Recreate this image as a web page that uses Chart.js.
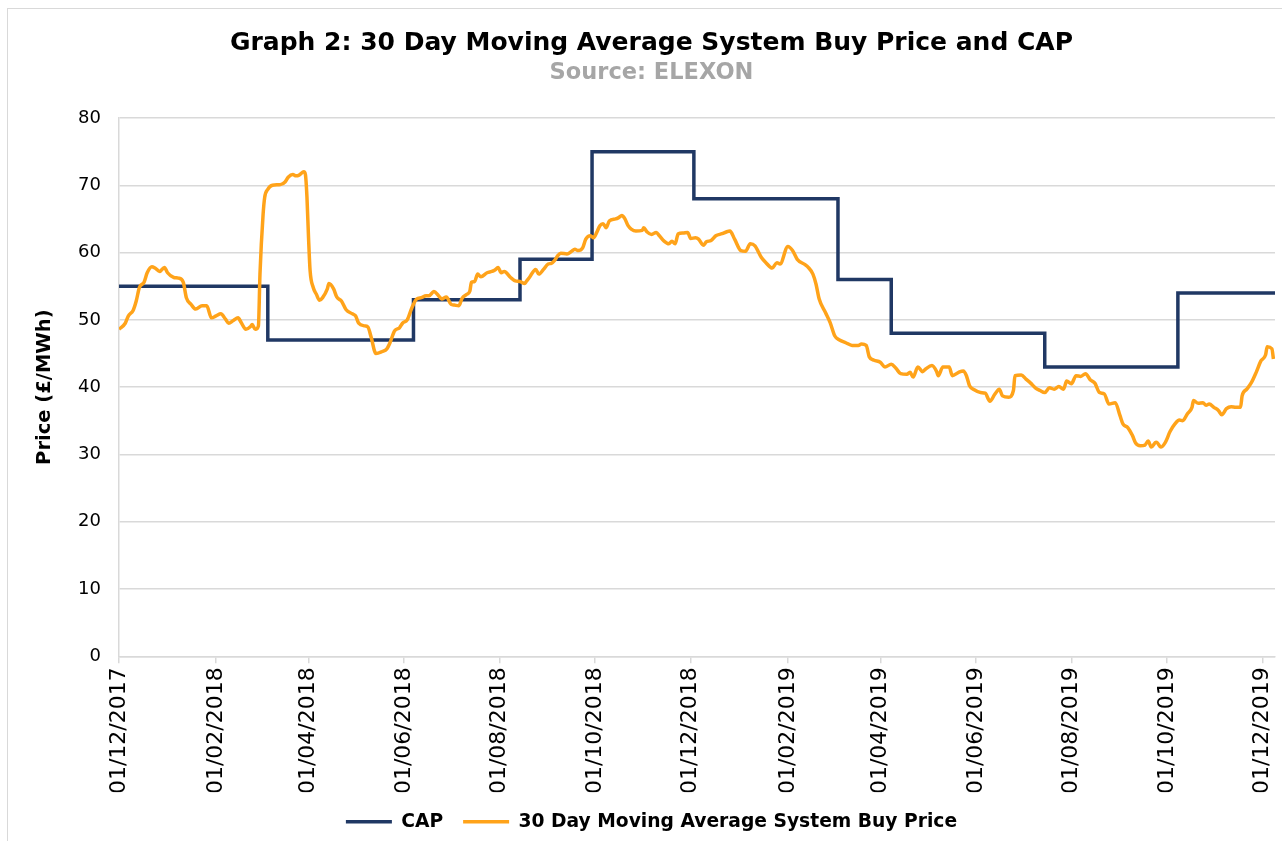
<!DOCTYPE html>
<html>
<head>
<meta charset="utf-8">
<title>Graph 2: 30 Day Moving Average System Buy Price and CAP</title>
<script src="https://cdn.jsdelivr.net/npm/chart.js@4.4.1/dist/chart.umd.min.js"></script>
<style>
  html, body { margin: 0; padding: 0; background: #fff; }
  .chart-box { position: relative; width: 1282px; height: 841px; }
</style>
</head>
<body>
<div class="chart-box"><canvas id="sbpChart"></canvas></div>
<script>
// x positions are days since 01/12/2017
const tickDays = [0, 62, 121, 182, 243, 304, 365, 427, 486, 547, 608, 669, 730];
const tickLabels = ["01/12/2017", "01/02/2018", "01/04/2018", "01/06/2018", "01/08/2018", "01/10/2018",
  "01/12/2018", "01/02/2019", "01/04/2019", "01/06/2019", "01/08/2019", "01/10/2019", "01/12/2019"];

// CAP changes (day the new value starts)
const capDays = [0, 95, 188, 256, 302, 367, 459, 493, 591, 676, 738];
const capValues = [55, 47, 53, 59, 75, 68, 56, 48, 43, 54, 54];

// 30 day moving average SBP
const priceDays = [
  0, 4, 6, 9, 11, 13, 16, 18, 21, 23, 26, 29, 31, 35, 38, 41, 43, 46, 49, 53,
  56, 59, 62, 65, 68, 70, 73, 76, 78, 81, 84, 85, 87, 89, 90, 92, 93, 95, 98, 103,
  106, 108, 111, 113, 115, 118, 119, 120, 121, 122, 124, 126, 128, 130, 133, 134, 137, 139, 142, 145,
  149, 151, 153, 157, 159, 161, 164, 168, 171, 173, 176, 179, 181, 184, 187, 190, 193, 196, 198, 201,
  204, 206, 209, 212, 214, 217, 219, 222, 224, 225, 227, 229, 231, 235, 238, 240, 242, 244, 246, 250,
  253, 256, 259, 260, 262, 266, 268, 271, 274, 276, 278, 280, 282, 286, 289, 291, 293, 296, 298, 301,
  303, 305, 307, 309, 311, 313, 317, 319, 321, 323, 325, 327, 330, 334, 335, 337, 340, 343, 345, 348,
  351, 353, 355, 357, 360, 363, 365, 368, 370, 373, 375, 378, 381, 385, 388, 390, 393, 397, 400, 403,
  406, 410, 413, 417, 420, 422, 427, 430, 433, 438, 440, 443, 445, 447, 451, 454, 457, 460, 464, 468,
  472, 474, 477, 479, 482, 486, 489, 493, 496, 499, 503, 505, 507, 510, 513, 515, 519, 522, 523, 526,
  530, 532, 536, 539, 541, 543, 546, 550, 553, 556, 559, 562, 564, 568, 571, 572, 576, 579, 582, 585,
  588, 591, 594, 597, 600, 603, 605, 608, 611, 614, 617, 620, 623, 626, 629, 632, 636, 639, 641, 644,
  647, 649, 652, 655, 657, 659, 662, 663, 665, 668, 671, 674, 677, 679, 682, 685, 686, 689, 692, 694,
  696, 699, 702, 704, 707, 710, 713, 716, 717, 720, 723, 726, 729, 732, 733, 736, 737
];
const priceValues = [
  48.6, 49.5, 50.6, 51.4, 52.8, 54.8, 55.6, 57.0, 57.9, 57.7, 57.2, 57.8, 57.0, 56.3, 56.2, 55.6, 53.3, 52.3, 51.6, 52.1,
  52.1, 50.3, 50.6, 50.9, 50.1, 49.5, 49.9, 50.3, 49.6, 48.6, 49.0, 49.3, 48.6, 49.1, 56.8, 65.7, 68.2, 69.4, 70.0, 70.1,
  70.5, 71.2, 71.6, 71.4, 71.5, 72.0, 71.6, 68.2, 62.2, 57.3, 54.8, 53.8, 52.9, 53.3, 54.6, 55.4, 54.6, 53.4, 52.8, 51.5,
  50.9, 50.6, 49.5, 49.1, 48.9, 47.4, 45.0, 45.3, 45.7, 46.6, 48.4, 48.8, 49.5, 50.0, 51.8, 53.1, 53.3, 53.6, 53.6, 54.2,
  53.6, 53.1, 53.4, 52.3, 52.2, 52.1, 53.2, 53.8, 54.3, 55.6, 55.7, 56.8, 56.4, 57.0, 57.2, 57.4, 57.8, 57.0, 57.2, 56.3,
  55.8, 55.7, 55.4, 55.7, 56.3, 57.5, 56.8, 57.5, 58.3, 58.4, 58.8, 59.5, 59.9, 59.8, 60.2, 60.5, 60.3, 60.7, 62.0, 62.5,
  62.2, 63.0, 64.0, 64.3, 63.7, 64.7, 65.0, 65.2, 65.5, 65.0, 64.0, 63.5, 63.2, 63.3, 63.7, 63.1, 62.7, 63.0, 62.5, 61.7,
  61.3, 61.7, 61.3, 62.8, 62.9, 63.0, 62.1, 62.2, 62.0, 61.1, 61.6, 61.8, 62.5, 62.8, 63.1, 63.2, 62.0, 60.3, 60.2, 61.3,
  61.0, 59.3, 58.5, 57.7, 58.5, 58.3, 60.9, 60.3, 59.0, 58.2, 57.8, 56.8, 55.3, 53.1, 51.1, 49.6, 47.6, 47.0, 46.6, 46.2,
  46.2, 46.4, 46.2, 44.5, 44.0, 43.7, 43.0, 43.4, 42.8, 42.0, 41.9, 42.2, 41.5, 43.0, 42.3, 42.7, 43.2, 42.3, 41.7, 43.0,
  43.0, 41.7, 42.2, 42.4, 41.7, 40.2, 39.6, 39.2, 39.1, 37.9, 38.9, 39.7, 38.7, 38.5, 39.5, 41.7, 41.8, 41.2, 40.6, 39.9,
  39.5, 39.2, 39.9, 39.7, 40.1, 39.7, 40.9, 40.5, 41.7, 41.6, 42.0, 41.1, 40.6, 39.2, 39.0, 37.5, 37.7, 35.8, 34.5, 34.0,
  32.8, 31.7, 31.3, 31.4, 32.0, 31.1, 31.8, 31.7, 31.1, 31.8, 33.4, 34.5, 35.1, 35.0, 36.0, 37.0, 38.0, 37.6, 37.7, 37.3,
  37.5, 37.0, 36.5, 35.9, 36.8, 37.1, 37.0, 37.0, 38.7, 39.7, 40.7, 42.2, 43.9, 44.8, 46.0, 45.7, 44.2
];

const FONT = "'DejaVu Sans', Verdana, sans-serif";
const NAVY = "#203864";
const ORANGE = "#FFA31A";
const GRID = "#d9d9d9";

// white background + thin outer frame like the Excel chart border
const frame = {
  id: "frame",
  beforeDraw(chart) {
    const ctx = chart.ctx;
    ctx.save();
    ctx.fillStyle = "#fff";
    ctx.fillRect(0, 0, chart.width, chart.height);
    ctx.strokeStyle = GRID;
    ctx.lineWidth = 1;
    ctx.strokeRect(7.5, 8.5, chart.width, chart.height);
    ctx.restore();
  },
};

new Chart(document.getElementById("sbpChart"), {
  type: "line",
  data: {
    datasets: [
      {
        label: "CAP",
        data: capDays.map((d, i) => ({ x: d, y: capValues[i] })),
        borderColor: NAVY,
        backgroundColor: NAVY,
        borderWidth: 3.5,
        stepped: true,
        pointRadius: 0,
        order: 1,
      },
      {
        label: "30 Day Moving Average System Buy Price",
        data: priceDays.map((d, i) => ({ x: d, y: priceValues[i] })),
        borderColor: ORANGE,
        backgroundColor: ORANGE,
        borderWidth: 3.5,
        cubicInterpolationMode: "monotone",
        pointRadius: 0,
        order: 0,
      },
    ],
  },
  options: {
    responsive: true,
    maintainAspectRatio: false,
    animation: false,
    layout: { padding: { left: 28, right: 7, top: 0, bottom: 0 } },
    plugins: {
      tooltip: { enabled: false },
      title: {
        display: true,
        text: "Graph 2: 30 Day Moving Average System Buy Price and CAP",
        color: "#000",
        font: { family: FONT, size: 25, weight: "bold" },
        padding: { top: 28, bottom: 0 },
      },
      subtitle: {
        display: true,
        text: "Source: ELEXON",
        color: "#a6a6a6",
        font: { family: FONT, size: 22.5, weight: "bold" },
        padding: { top: 2, bottom: 31 },
      },
      legend: {
        position: "bottom",
        labels: {
          usePointStyle: true,
          pointStyle: "line",
          pointStyleWidth: 46,
          color: "#000",
          font: { family: FONT, size: 18.7, weight: "bold" },
          padding: 20,
          sort: (a, b) => a.datasetIndex - b.datasetIndex,
        },
      },
    },
    scales: {
      x: {
        type: "linear",
        min: 0,
        max: 738,
        afterBuildTicks: (scale) => {
          scale.ticks = tickDays.map((v) => ({ value: v }));
        },
        afterFit: (scale) => {
          scale.height = 136;
          scale.paddingLeft = 0;
          scale.paddingRight = 0;
        },
        ticks: {
          autoSkip: false,
          minRotation: 90,
          maxRotation: 90,
          padding: 4,
          color: "#000",
          font: { family: FONT, size: 22 },
          callback: (v) => tickLabels[tickDays.indexOf(v)] || "",
        },
        grid: { drawOnChartArea: false, drawTicks: true, tickLength: 7, color: GRID, lineWidth: 1.5 },
        border: { color: GRID, width: 1.5 },
      },
      y: {
        min: 0,
        max: 80,
        afterFit: (scale) => {
          scale.width = 91;
        },
        ticks: {
          stepSize: 10,
          padding: 18,
          color: "#000",
          font: { family: FONT, size: 18 },
        },
        grid: { color: GRID, lineWidth: 1.5, drawTicks: false },
        border: { color: GRID, width: 1.5 },
        title: {
          display: true,
          text: "Price (£/MWh)",
          color: "#000",
          font: { family: FONT, size: 19.5, weight: "bold" },
          padding: { top: 5, bottom: 0 },
        },
      },
    },
  },
  plugins: [frame],
});
</script>
</body>
</html>
